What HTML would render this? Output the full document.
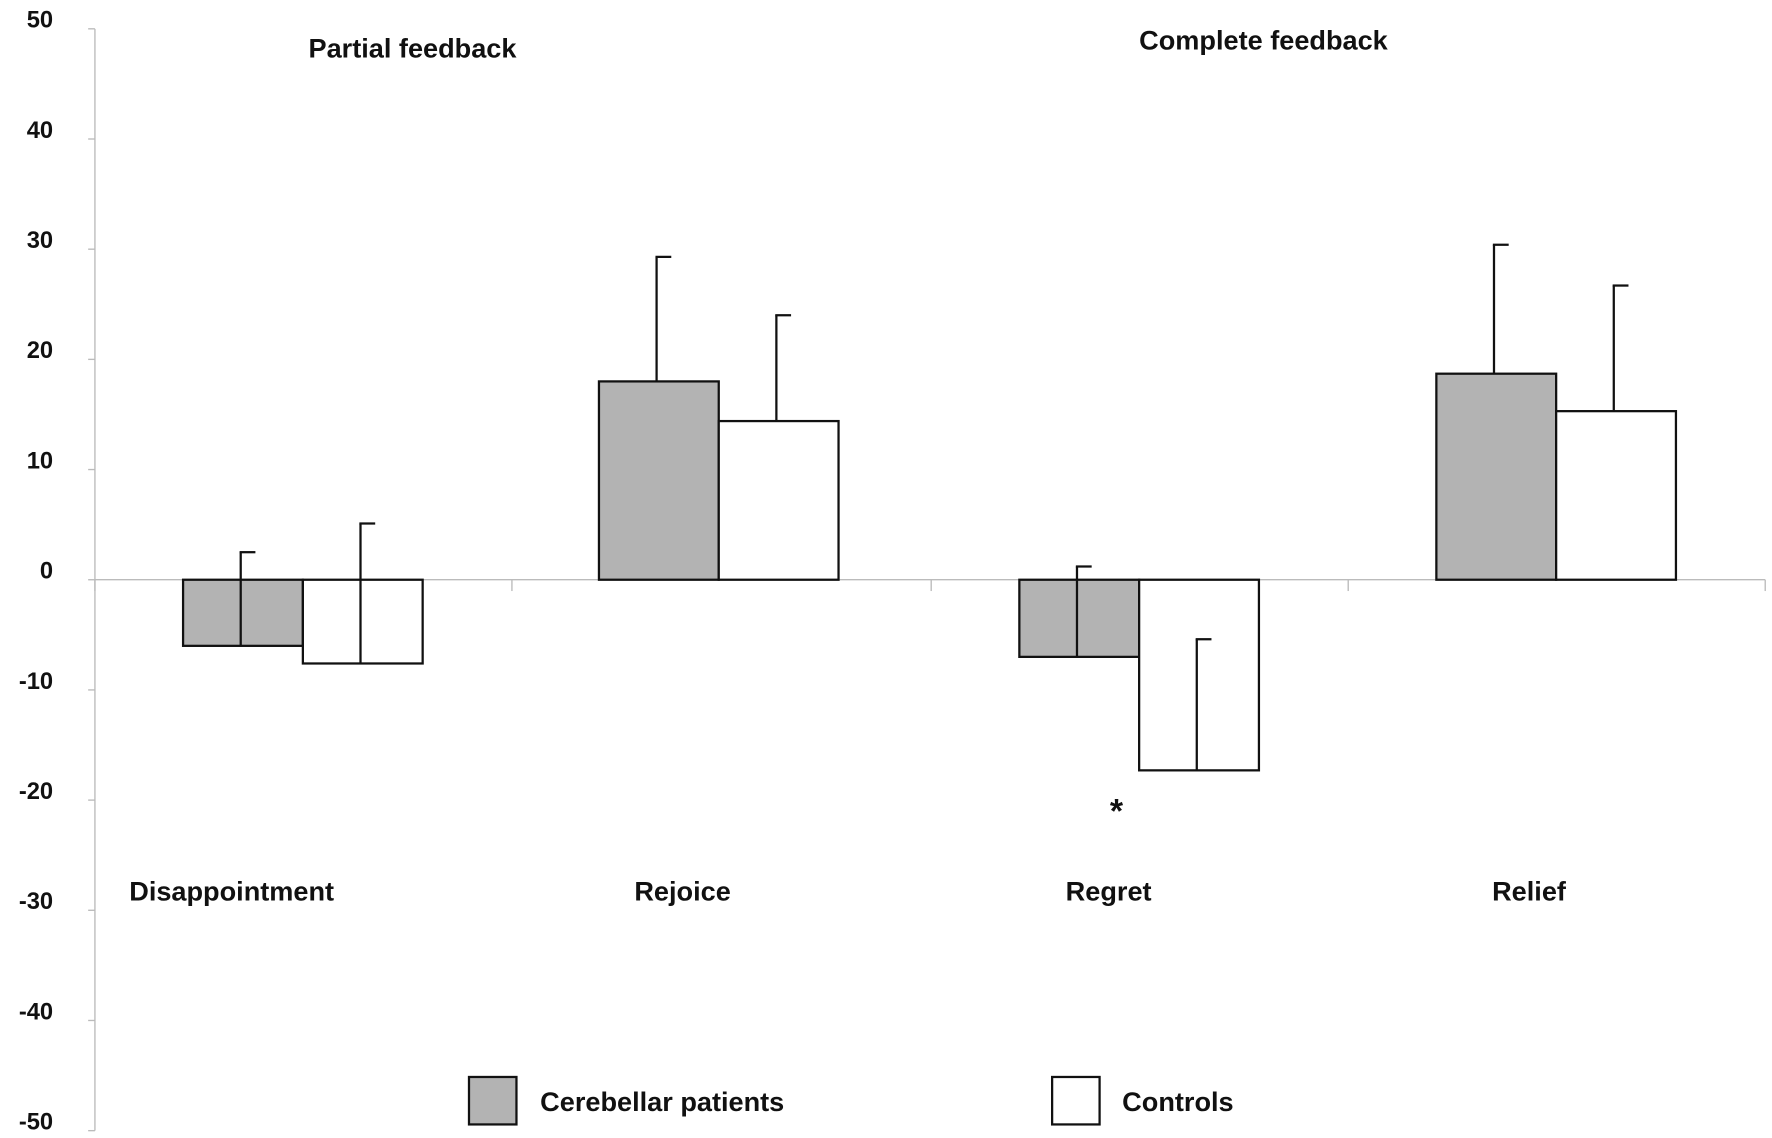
<!DOCTYPE html>
<html><head><meta charset="utf-8"><style>
html,body{margin:0;padding:0;background:#fff;}
svg{display:block;font-family:"Liberation Sans",Arial,sans-serif;font-weight:bold;}
</style></head><body>
<svg id="chart" width="1772" height="1138" viewBox="0 0 1568 1007" preserveAspectRatio="none" xmlns="http://www.w3.org/2000/svg">
<g id="axes"></g><g id="bars"></g><g id="labels"></g>
</svg>
<script>
const categories = ["Disappointment","Rejoice","Regret","Relief"];
const patients = [-6.0, 18.0, -7.0, 18.7];
const patientsErr = [2.5, 29.3, 1.2, 30.4];
const controls = [-7.6, 14.4, -17.3, 15.3];
const controlsErr = [5.1, 24.0, -5.4, 26.7];
const yTicks = [50,40,30,20,10,0,-10,-20,-30,-40,-50];

const NS="http://www.w3.org/2000/svg";
function y(v){ return 513 - v*9.75; }
const groupLeft = [162,530,902,1271];
const barW = 106;
function el(tag, attrs, parent, text){
  const e=document.createElementNS(NS,tag);
  for(const k in attrs) e.setAttribute(k,attrs[k]);
  if(text!==undefined) e.textContent=text;
  parent.appendChild(e); return e;
}
const axes=document.getElementById('axes'), bars=document.getElementById('bars'), labels=document.getElementById('labels');
let a=el('line',{x1:84,y1:y(50),x2:84,y2:y(-50),stroke:'#bbb','stroke-width':1.2},axes);


let z=el('line',{x1:84,y1:y(0),x2:1562,y2:y(0),stroke:'#bbb','stroke-width':1.2},axes);


[84,453,824,1193,1562].forEach(x=>{
  const t=el('line',{x1:x,y1:y(0),x2:x,y2:y(0)+10,stroke:'#bbb','stroke-width':1.2},axes);
  
  
});
yTicks.forEach(v=>{
  const t=el('line',{x1:78,y1:y(v),x2:84,y2:y(v),stroke:'#bbb','stroke-width':1.2},axes);
  
  
  const l=el('text',{x:47,y:y(v)-1,'text-anchor':'end','font-size':21,fill:'#111'},axes,String(v));
  
  
});
function bar(x,v,err,fill,name){
  const top=Math.min(y(0),y(v)), h=Math.abs(y(v)-y(0));
  const r=el('rect',{x:x,y:top,width:barW,height:h,fill:fill,stroke:'#111','stroke-width':2},bars);
  
  
  const cx=x+barW/2-2;
  const e=el('line',{x1:cx,y1:y(v),x2:cx,y2:y(err),stroke:'#111','stroke-width':2},bars);
  
  
  const c=el('line',{x1:cx-1,y1:y(err),x2:cx+13,y2:y(err),stroke:'#111','stroke-width':2},bars);
  
  
}
categories.forEach((c,i)=>{
  bar(groupLeft[i],patients[i],patientsErr[i],'#b3b3b3','bar-patients-'+c.toLowerCase());
  bar(groupLeft[i]+barW,controls[i],controlsErr[i],'#fff','bar-controls-'+c.toLowerCase());
});
const catX=[205,604,981,1353];
categories.forEach((c,i)=>{
  const t=el('text',{x:catX[i],y:797,'text-anchor':'middle','font-size':24,fill:'#111'},labels,c);
  
  
});
</script>
<svg style="position:absolute;left:0;top:0" width="1772" height="1138" viewBox="0 0 1568 1007" preserveAspectRatio="none" xmlns="http://www.w3.org/2000/svg" font-family="Liberation Sans, Arial, sans-serif" font-weight="bold">
<text x="365" y="51" text-anchor="middle" font-size="24" fill="#111">Partial feedback</text>
<text x="1118" y="44" text-anchor="middle" font-size="24" fill="#111">Complete feedback</text>
<text x="988" y="728" text-anchor="middle" font-size="30" fill="#111">*</text>
<rect x="415" y="953" width="42" height="42" fill="#b3b3b3" stroke="#111" stroke-width="2"/>
<text x="478" y="983" font-size="24" fill="#111">Cerebellar patients</text>
<rect x="931" y="953" width="42" height="42" fill="#fff" stroke="#111" stroke-width="2"/>
<text x="993" y="983" font-size="24" fill="#111">Controls</text>
</svg>
</body></html>
